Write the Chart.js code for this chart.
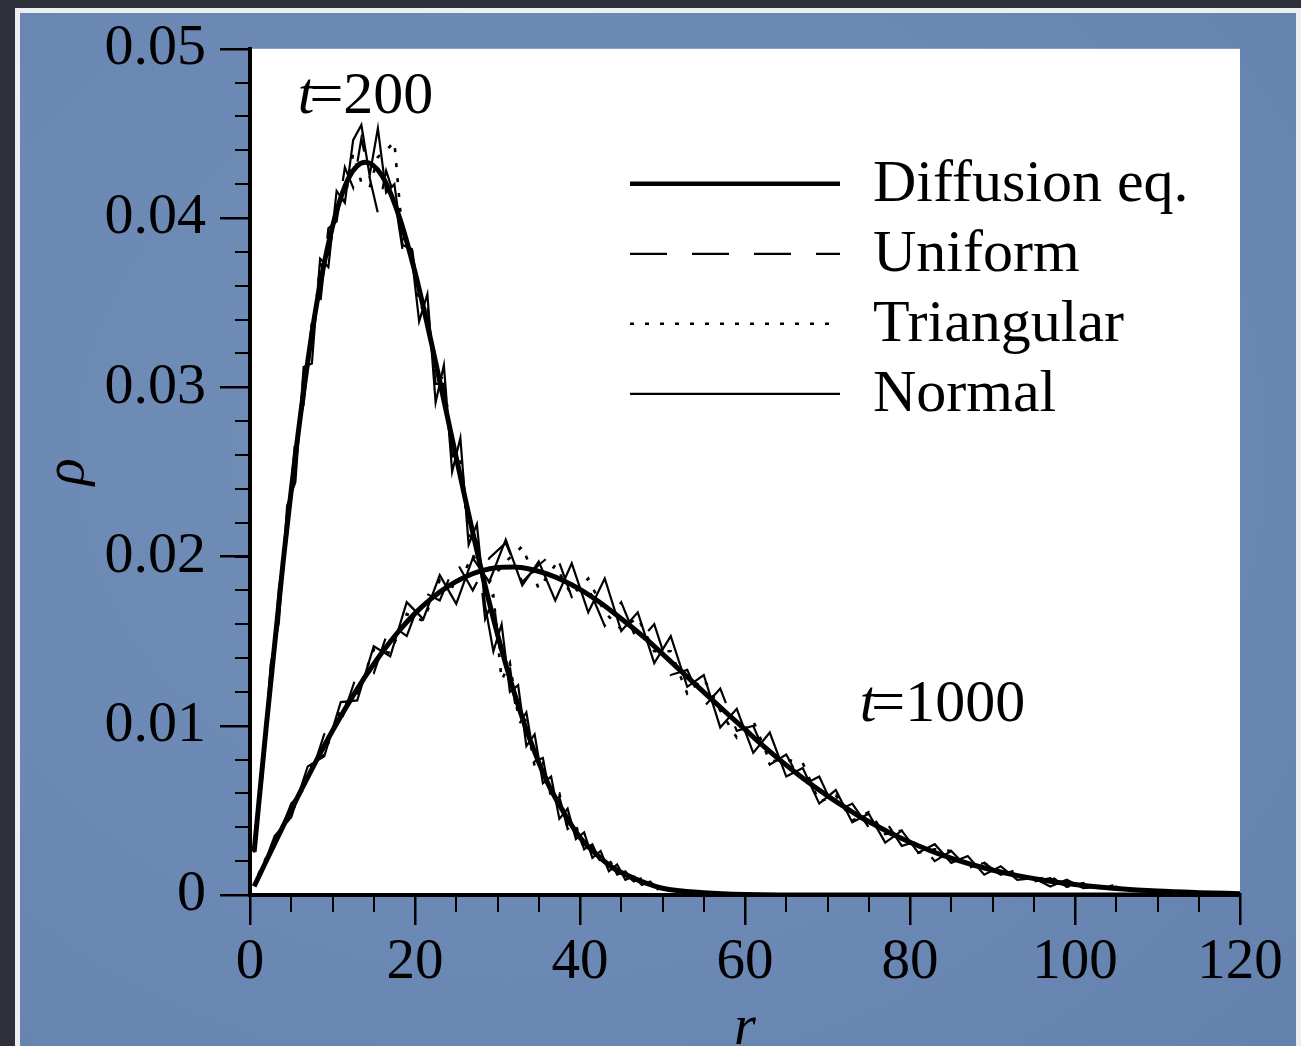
<!DOCTYPE html>
<html>
<head>
<meta charset="utf-8">
<script src="https://cdn.jsdelivr.net/npm/chart.js@4.4.1/dist/chart.umd.min.js"></script>
<style>
  html, body { margin: 0; padding: 0; }
  body { width: 1301px; height: 1046px; overflow: hidden; background: #2e3139; position: relative; }
  #panel {
    position: absolute; left: 15px; top: 8px; width: 1286px; height: 1100px; box-sizing: border-box;
    border-left: 5px solid #eceef0; border-top: 5px solid #eceef0; border-right: 5px solid #eceef0;
    background: radial-gradient(ellipse at 40% 40%, #7290ba 0%, #6b87b3 60%, #6480ad 100%);
  }
  #chart { position: absolute; left: 0; top: 0; }
</style>
</head>
<body>
<div id="panel"></div>
<canvas id="chart" width="1301" height="1046"></canvas>
<script>
// --- data ---
const xTicks = [0, 20, 40, 60, 80, 100, 120];
const yTicks = [0, 0.01, 0.02, 0.03, 0.04, 0.05];
const seriesNames = ['Diffusion eq.', 'Uniform', 'Triangular', 'Normal'];

// smooth diffusion-equation curves
const rSmooth200 = [0.5, 2, 4, 6, 8, 10, 12, 14, 16, 18, 20, 22, 24, 26, 28, 30, 32, 34, 36, 38, 40, 42, 44, 46, 48, 50, 55, 60, 70, 80, 90, 100, 110, 120];
const diff200 = [0.00255, 0.0101, 0.0196, 0.0279, 0.0347, 0.0395, 0.0424, 0.0433, 0.0425, 0.0402, 0.0368, 0.0326, 0.0281, 0.0236, 0.0193, 0.0154, 0.0120, 0.0091, 0.0067, 0.0049, 0.0034, 0.0024, 0.0016, 0.0011, 0.0007, 0.0004, 0.00013, 0.00003, 0, 0, 0, 0, 0, 0];
const rSmooth1000 = [0.5, 2, 4, 6, 8, 10, 12, 14, 16, 18, 20, 22, 24, 26, 28, 30, 32, 34, 36, 38, 40, 42, 44, 46, 48, 50, 52, 54, 56, 58, 60, 62, 64, 66, 68, 70, 72, 74, 76, 78, 80, 84, 88, 92, 96, 100, 105, 110, 115, 120];
const diff1000 = [0.00051, 0.00204, 0.00405, 0.00601, 0.00790, 0.00970, 0.01138, 0.01293, 0.01433, 0.01557, 0.01664, 0.01753, 0.01824, 0.01878, 0.01915, 0.01935, 0.01938, 0.01925, 0.01897, 0.01857, 0.01806, 0.01743, 0.01671, 0.01594, 0.01513, 0.01425, 0.01334, 0.01244, 0.01154, 0.01065, 0.00978, 0.00890, 0.00807, 0.00728, 0.00654, 0.00586, 0.00522, 0.00461, 0.00408, 0.00357, 0.00312, 0.00234, 0.00173, 0.00125, 0.00089, 0.00062, 0.00039, 0.00023, 0.00014, 0.00008];

// simulated histograms, t=200
const rT200 = [0.5, 1.5, 2.5, 3.5, 4.5, 5.5, 6.5, 7.5, 8.5, 9.5, 10.5, 11.5, 12.5, 13.5, 14.5, 15.5, 16.5, 17.5, 18.5, 19.5, 20.5, 21.5, 22.5, 23.5, 24.5, 25.5, 26.5, 27.5, 28.5, 29.5, 30.5, 31.5, 32.5, 33.5, 34.5, 35.5, 36.5, 37.5, 38.5, 39.5, 40.5, 41.5, 42.5, 43.5, 44.5, 45.5, 46.5, 47.5, 48.5, 49.5];
const unif200 = [0.0025, 0.0080, 0.0120, 0.0181, 0.0213, 0.0270, 0.0290, 0.0339, 0.0349, 0.0394, 0.0398, 0.0430, 0.0418, 0.0447, 0.0424, 0.0403, 0.0428, 0.0413, 0.0381, 0.0387, 0.0352, 0.0349, 0.0302, 0.0302, 0.0259, 0.0261, 0.0217, 0.0209, 0.0163, 0.0175, 0.0136, 0.0135, 0.0100, 0.0108, 0.0079, 0.0081, 0.0055, 0.0058, 0.0039, 0.0042, 0.0027, 0.0030, 0.0019, 0.0022, 0.0012, 0.0014, 0.0008, 0.0010, 0.0004, 0.0006];
const tri200 = [0.0028, 0.0073, 0.0131, 0.0169, 0.0225, 0.0254, 0.0307, 0.0327, 0.0372, 0.0376, 0.0410, 0.0411, 0.0438, 0.0421, 0.0418, 0.0436, 0.0440, 0.0445, 0.0388, 0.0385, 0.0349, 0.0343, 0.0307, 0.0305, 0.0264, 0.0258, 0.0213, 0.0208, 0.0175, 0.0177, 0.0127, 0.0137, 0.0106, 0.0103, 0.0076, 0.0079, 0.0058, 0.0060, 0.0040, 0.0041, 0.0027, 0.0029, 0.0020, 0.0021, 0.0013, 0.0014, 0.0008, 0.0008, 0.0005, 0.0005];
const norm200 = [0.0026, 0.0070, 0.0136, 0.0161, 0.0230, 0.0244, 0.0312, 0.0314, 0.0376, 0.0371, 0.0416, 0.0409, 0.0446, 0.0455, 0.0425, 0.0453, 0.0415, 0.0420, 0.0384, 0.0382, 0.0339, 0.0355, 0.0291, 0.0313, 0.0250, 0.0270, 0.0207, 0.0219, 0.0171, 0.0144, 0.0160, 0.0120, 0.0124, 0.0088, 0.0095, 0.0066, 0.0070, 0.0045, 0.0051, 0.0033, 0.0037, 0.0022, 0.0026, 0.0014, 0.0018, 0.0009, 0.0011, 0.0006, 0.0008, 0.0003];

// simulated histograms, t=1000
const rT1000 = [1, 3, 5, 7, 9, 11, 13, 15, 17, 19, 21, 23, 25, 27, 29, 31, 33, 35, 37, 39, 41, 43, 45, 47, 49, 51, 53, 55, 57, 59, 61, 63, 65, 67, 69, 71, 73, 75, 77, 79, 81, 83, 85, 87, 89, 91, 93, 95, 97, 99, 101, 103, 105, 107, 109];
const unif1000 = [0.0010, 0.0029, 0.0054, 0.0065, 0.0095, 0.0102, 0.0131, 0.0131, 0.0160, 0.0153, 0.0179, 0.0174, 0.0197, 0.0180, 0.0199, 0.0208, 0.0185, 0.0195, 0.0203, 0.0176, 0.0182, 0.0159, 0.0173, 0.0149, 0.0160, 0.0130, 0.0133, 0.0111, 0.0122, 0.0097, 0.0100, 0.0077, 0.0083, 0.0065, 0.0070, 0.0049, 0.0054, 0.0040, 0.0044, 0.0029, 0.0032, 0.0020, 0.0026, 0.0016, 0.0019, 0.0012, 0.0015, 0.0008, 0.0010, 0.0005, 0.0008, 0.0004, 0.0005, 0.0002, 0.0004];
const tri1000 = [0.0012, 0.0033, 0.0047, 0.0074, 0.0083, 0.0111, 0.0119, 0.0145, 0.0143, 0.0166, 0.0162, 0.0186, 0.0181, 0.0201, 0.0185, 0.0197, 0.0206, 0.0181, 0.0195, 0.0177, 0.0187, 0.0167, 0.0157, 0.0164, 0.0144, 0.0144, 0.0119, 0.0128, 0.0109, 0.0093, 0.0103, 0.0079, 0.0080, 0.0078, 0.0055, 0.0059, 0.0044, 0.0049, 0.0036, 0.0038, 0.0025, 0.0027, 0.0026, 0.0016, 0.0019, 0.0012, 0.0013, 0.0009, 0.0011, 0.0005, 0.0007, 0.0004, 0.0006, 0.0002, 0.0003];
const norm1000 = [0.0009, 0.0035, 0.0046, 0.0076, 0.0082, 0.0114, 0.0115, 0.0147, 0.0141, 0.0173, 0.0163, 0.0189, 0.0172, 0.0199, 0.0185, 0.0210, 0.0183, 0.0197, 0.0174, 0.0196, 0.0167, 0.0187, 0.0156, 0.0167, 0.0137, 0.0153, 0.0123, 0.0130, 0.0099, 0.0110, 0.0084, 0.0096, 0.0070, 0.0075, 0.0054, 0.0062, 0.0043, 0.0048, 0.0031, 0.0038, 0.0025, 0.0030, 0.0019, 0.0023, 0.0012, 0.0017, 0.0009, 0.0010, 0.0005, 0.0009, 0.0004, 0.0005, 0.0003, 0.0003, 0.0002];

const SERIF = '"Liberation Serif", "Times New Roman", serif';
const pts = (xs, ys) => xs.map((x, i) => ({ x, y: ys[i] }));

const styles = {
  'Diffusion eq.': { borderWidth: 5, borderDash: [] },
  'Uniform':       { borderWidth: 2.2, borderDash: [37, 25] },
  'Triangular':    { borderWidth: 2.6, borderDash: [4, 11] },
  'Normal':        { borderWidth: 2.2, borderDash: [] },
};

function line(name, data, smooth) {
  return {
    label: name, data,
    borderColor: '#000', backgroundColor: '#000',
    borderWidth: styles[name].borderWidth, borderDash: styles[name].borderDash,
    pointRadius: 0, fill: false,
    cubicInterpolationMode: smooth ? 'monotone' : 'default', tension: 0,
  };
}

// white plot area, minor ticks, legend and t= labels
const decor = {
  id: 'decor',
  beforeDraw(chart) {
    const { ctx, chartArea: a } = chart;
    ctx.save();
    ctx.fillStyle = '#fff';
    ctx.fillRect(a.left, a.top, a.right - a.left, a.bottom - a.top);
    ctx.restore();
  },
  afterDraw(chart) {
    const { ctx, chartArea: a, scales: { x, y } } = chart;
    ctx.save();
    ctx.strokeStyle = '#000';
    ctx.lineWidth = 2;
    for (let v = 0; v <= 0.0501; v += 0.002) {
      const py = Math.round(y.getPixelForValue(v));
      ctx.beginPath(); ctx.moveTo(a.left - 15, py); ctx.lineTo(a.left, py); ctx.stroke();
    }
    for (let v = 0; v <= 120; v += 5) {
      const px = Math.round(x.getPixelForValue(v));
      ctx.beginPath(); ctx.moveTo(px, a.bottom); ctx.lineTo(px, a.bottom + 17); ctx.stroke();
    }

    // legend
    const lx = a.left + 380, lw = 210;
    ctx.fillStyle = '#000';
    ctx.textBaseline = 'alphabetic';
    seriesNames.forEach((name, i) => {
      const ly = a.top + 135 + i * 70;
      ctx.lineWidth = name === 'Diffusion eq.' ? 4.5 : styles[name].borderWidth;
      ctx.setLineDash(styles[name].borderDash);
      ctx.beginPath(); ctx.moveTo(lx, ly); ctx.lineTo(lx + lw, ly); ctx.stroke();
      ctx.setLineDash([]);
      ctx.font = '60px ' + SERIF;
      ctx.fillText(name, lx + 243, ly + 17);
    });

    // t= annotations
    const tLabel = (txt, rx, ry) => {
      const px = x.getPixelForValue(rx), py = y.getPixelForValue(ry);
      ctx.font = 'italic 60px ' + SERIF;
      ctx.fillText('t', px, py);
      const w = ctx.measureText('t').width;
      ctx.font = '60px ' + SERIF;
      ctx.fillText(txt, px + w * 0.7, py);
    };
    tLabel('=200', 5.8, 0.0462);
    tLabel('=1000', 73.9, 0.01027);
    ctx.restore();
  }
};

new Chart(document.getElementById('chart'), {
  type: 'line',
  data: {
    datasets: [
      line('Diffusion eq.', pts(rSmooth200, diff200), true),
      line('Diffusion eq.', pts(rSmooth1000, diff1000), true),
      line('Normal', pts(rT200, norm200)),
      line('Normal', pts(rT1000, norm1000)),
      line('Uniform', pts(rT200, unif200)),
      line('Uniform', pts(rT1000, unif1000)),
      line('Triangular', pts(rT200, tri200)),
      line('Triangular', pts(rT1000, tri1000)),
    ]
  },
  options: {
    responsive: false,
    animation: false,
    layout: { padding: { top: 48, right: 61, bottom: 0, left: 0 } },
    plugins: { legend: { display: false }, tooltip: { enabled: false } },
    scales: {
      x: {
        type: 'linear', min: 0, max: 120,
        afterFit: s => { s.height = 151; },
        afterBuildTicks: s => { s.ticks = xTicks.map(v => ({ value: v })); },
        border: { display: true, color: '#000', width: 4 },
        grid: { drawOnChartArea: false, drawTicks: true, tickLength: 30, color: '#000', lineWidth: 2.5 },
        ticks: { color: '#000', font: { family: SERIF, size: 57 }, padding: 4, maxRotation: 0, autoSkip: false },
        title: { display: true, text: 'r', color: '#000', font: { family: SERIF, size: 56, style: 'italic', lineHeight: 0.6 }, padding: 0 }
      },
      y: {
        type: 'linear', min: 0, max: 0.05,
        afterFit: s => { s.width = 250; },
        afterBuildTicks: s => { s.ticks = yTicks.map(v => ({ value: v })); },
        border: { display: true, color: '#000', width: 4 },
        grid: { drawOnChartArea: false, drawTicks: true, tickLength: 30, color: '#000', lineWidth: 2.5 },
        ticks: { color: '#000', font: { family: SERIF, size: 58 }, padding: 14, callback: v => v === 0 ? '0' : v.toFixed(2) },
        title: { display: true, text: 'ρ', color: '#000', font: { family: SERIF, size: 56, style: 'italic' }, padding: { top: 35, bottom: 0 } }
      }
    }
  },
  plugins: [decor]
});
</script>
</body>
</html>
